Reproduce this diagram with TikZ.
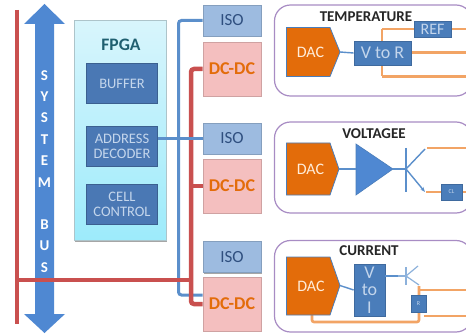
\documentclass[tikz,border=0pt]{standalone}
\usepackage{fontspec}
\setmainfont{Carlito}
\usetikzlibrary{shapes.geometric,arrows.meta,shadows}
\definecolor{busred}{HTML}{C9504F}
\definecolor{wireblue}{HTML}{5B8FCB}
\definecolor{arrowblue}{HTML}{4F88D2}
\definecolor{boxblue}{HTML}{4A7DBA}
\definecolor{darkbox}{HTML}{4A78B4}
\definecolor{dacorange}{HTML}{E36C0A}
\definecolor{wireorange}{HTML}{F2A465}
\definecolor{isofill}{HTML}{9DBBE0}
\definecolor{dcfill}{HTML}{F4BFBF}
\definecolor{panelline}{HTML}{A88CC4}
\definecolor{txtblue}{HTML}{C4D6EC}
\definecolor{fpgatop}{HTML}{D8F5FC}
\definecolor{fpgabot}{HTML}{9DEBFB}
\definecolor{fpgatxt}{HTML}{1F5F70}
\definecolor{isotxt}{HTML}{2F4F7F}
\tikzset{
  x=1pt,y=-1pt,
  softshadow/.style={drop shadow={shadow xshift=.6pt,shadow yshift=-1.4pt,opacity=.35,fill=black}},
  redwire/.style={draw=busred,line width=4.5pt},
  bluewire/.style={draw=wireblue,line width=3pt},
  thinblue/.style={draw=wireblue,line width=1.4pt},
  orangewire/.style={draw=wireorange,line width=2.6pt},
  isobox/.style={draw=isofill!85!black,fill=isofill,line width=.6pt,minimum width=58pt,minimum height=31pt,inner sep=0pt,font=\fontsize{17}{17}\selectfont,text=isotxt,softshadow},
  dcbox/.style={draw=dcfill!85!black,fill=dcfill,line width=.6pt,minimum width=58pt,minimum height=54pt,inner sep=0pt,font=\bfseries\fontsize{18}{18}\selectfont,text=dacorange,softshadow},
  fpgacell/.style={draw=darkbox!80!black,fill=darkbox,line width=.8pt,minimum width=71pt,minimum height=40pt,inner sep=0pt,align=center,text=txtblue,font=\fontsize{14.5}{15}\selectfont},
  panel/.style={draw=panelline,line width=1.2pt,rounded corners=16pt,fill=white},
  dac/.style={draw=boxblue,fill=dacorange,line width=.8pt},
  dactxt/.style={text=white!85!orange,font=\fontsize{16}{16}\selectfont,inner sep=0pt},
  ctrl/.style={draw=boxblue!85!black,fill=boxblue,line width=.8pt,inner sep=0pt,align=center,text=txtblue},
  heading/.style={font=\bfseries\fontsize{15}{15}\selectfont,text=black!85,inner sep=0pt},
  bustxt/.style={font=\bfseries\fontsize{15}{15}\selectfont,text=white,inner sep=0pt},
}
\begin{document}
\begin{tikzpicture}
\useasboundingbox (0,0) rectangle (466,334);
% panels
\draw[panel] (274.5,5) rectangle (472,96);
\draw[panel] (274.5,122) rectangle (472,213);
\draw[panel] (274.5,240.5) rectangle (472,332);
% bus
\coordinate (railtop) at (17,10);
\coordinate (railbot) at (17,324);
\draw[redwire] (railtop) -- (railbot);
\fill[arrowblue] (44.5,4) -- (65,24) -- (54,24) -- (54,314) -- (65,314) -- (44.5,333) -- (24,314) -- (35,314) -- (35,24) -- (24,24) -- cycle;
\foreach \t/\y in {S/76,Y/97,S/118,T/140,E/161,M/183,B/225,U/246,S/268}
  \node[bustxt] (bus\y) at (44.5,\y) {\t};
% FPGA
\draw[draw=fpgatop!80!black,line width=.6pt,top color=fpgatop,bottom color=fpgabot,softshadow] (74.5,20.5) rectangle (166,240.5);
\node[inner sep=0pt,font=\bfseries\fontsize{17.5}{17.5}\selectfont,text=fpgatxt] (fpga) at (121,45) {FPGA};
\node[fpgacell] (buffer) at (122,83.5) {BUFFER};
\node[fpgacell] (addr) at (122,146) {ADDRESS\\DECODER};
\node[fpgacell] (cell) at (122,204) {CELL\\CONTROL};
% ISO and DC
\node[isobox] (iso1) at (232,20.5) {ISO};
\node[dcbox] (dc1) at (232,69) {DC-DC};
\node[isobox] (iso2) at (232,138.5) {ISO};
\node[dcbox] (dc2) at (232,186) {DC-DC};
\node[isobox] (iso3) at (232,257) {ISO};
\node[dcbox] (dc3) at (232,304) {DC-DC};
% wires
\coordinate (busj) at (17,280);
\coordinate (redx) at (191,280);
\draw[bluewire,rounded corners=3pt] (iso1.west) -- (178.5,20.5) -- (178.5,295) -- (iso3.west |- 0,295);
\draw[redwire] (busj) -- (redx);
\draw[redwire,rounded corners=3pt] (dc1.west) -- (191,69) -- (191,304) -- (dc3.west);
\draw[redwire] (191,186) -- (dc2.west);
\draw[bluewire] (addr.east |- iso2.west) -- (iso2.west);
% temperature
\draw[orangewire] (382,29) -- (466,29);
\draw[orangewire] (382,76.5) -- (466,76.5);
\draw[orangewire] (382,29) -- (382,76.5);
\draw[orangewire] (410,52.7) -- (466,52.7);
\draw[dac] (286.5,27.5) -- (330,27.5) -- (340,52) -- (330,76.5) -- (286.5,76.5) -- cycle;
\node[dactxt] (dac1) at (310.5,52) {DAC};
\node[ctrl,minimum width=57pt,minimum height=24pt,font=\fontsize{18}{18}\selectfont] (vtor) at (382.5,53) {V to R};
\node[ctrl,minimum width=37pt,minimum height=16pt,font=\fontsize{16}{16}\selectfont] (ref) at (432.5,29) {REF};
\node[heading] (temp) at (366,17) {TEMPERATURE};
\draw[thinblue] (340,52) -- (vtor.west);
% voltagee
\node[heading] (volt) at (374,134) {VOLTAGEE};
\draw[dac] (286.5,143) -- (330,143) -- (339,169) -- (330,195) -- (286.5,195) -- cycle;
\node[dactxt] (dac2) at (310.5,169) {DAC};
\draw[draw=boxblue,fill=arrowblue,line width=.6pt] (356,144) -- (393,169) -- (356,195) -- cycle;
\coordinate (tribase) at (406,169);
\draw[thinblue] (339,169) -- (356,169);
\draw[thinblue] (393,169) -- (406,169);
\draw[thinblue] (406,148) -- (406,192);
\draw[thinblue] (406,169) -- (425,149);
\draw[thinblue,-{Stealth[length=5pt]}] (406,169) -- (425,192);
\draw[orangewire] (427,148) -- (466,148);
\draw[orangewire] (426,192) -- (466,192);
\node[ctrl,minimum width=21pt,minimum height=16pt,font=\fontsize{6}{6}\selectfont] (cl) at (451.5,192) {CL};
% current
\node[heading] (cur) at (369,251) {CURRENT};
\draw[orangewire,rounded corners=2pt] (312,312) -- (312,322) -- (419,322) -- (419,286);
\draw[orangewire] (419,290) -- (466,290);
\draw[orangewire] (424,316) -- (466,316);
\draw[dac] (286.5,257) -- (330,257) -- (340,285.5) -- (330,315) -- (286.5,315) -- cycle;
\node[dactxt] (dac3) at (311,286) {DAC};
\node[ctrl,minimum width=31pt,minimum height=52pt,font=\fontsize{18}{17.5}\selectfont] (vtoi) at (369.5,290) {V\\to\\I};
\node[ctrl,minimum width=15pt,minimum height=17pt,font=\fontsize{6}{6}\selectfont] (rbox) at (418.5,303.5) {R};
\draw[thinblue] (340,285.5) -- (vtoi.west);
\draw[bluewire,line width=2pt] (vtoi.east |- 0,276) -- (398,276);
\draw[draw=wireblue!70,line width=1.2pt] (398,276) -- (406,276);
\draw[draw=wireblue!70,line width=1.2pt] (406,267) -- (406,285);
\draw[draw=wireblue!70,line width=1.2pt] (406,276) -- (418,266);
\draw[draw=wireblue!70,line width=1.2pt] (406,276) -- (419,285);
\end{tikzpicture}
\end{document}
